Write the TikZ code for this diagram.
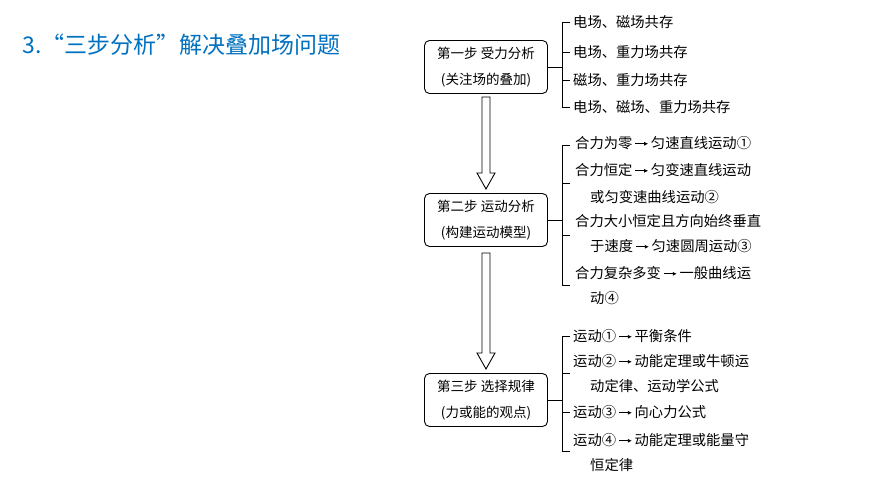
\documentclass[tikz,border=0pt]{standalone}
\usepackage{fontspec}
\setmainfont{Noto Sans CJK SC}
\usetikzlibrary{arrows.meta}
\newcommand{\rarr}{\,\tikz[baseline=-0.6ex]\draw[line width=0.8pt,-{Latex[length=4pt,width=4pt]}] (0,0)--(13pt,0);\,}
\begin{document}
\begin{tikzpicture}[x=1pt,y=-1pt,
  stepbox/.style={draw,line width=0.9pt,rounded corners=5pt,minimum width=123pt,minimum height=53pt,align=center,font=\fontsize{13.5}{26}\selectfont},
  item/.style={anchor=west,font=\fontsize{14.3}{16}\selectfont,inner sep=0pt},
  br/.style={line width=0.9pt},
  hollow/.style={draw,line width=0.9pt,fill=white}]
\useasboundingbox (0,0) rectangle (870,489);
\node[anchor=west,text={rgb,255:red,0;green,112;blue,192},font=\fontsize{23}{26}\selectfont] (title) at (19,45) {3.“三步分析”解决叠加场问题};
\node[stepbox] (s1) at (486,67) {第一步 受力分析\\(关注场的叠加)};
\node[stepbox] (s2) at (486,220) {第二步 运动分析\\(构建运动模型)};
\node[stepbox] (s3) at (486,400) {第三步 选择规律\\(力或能的观点)};
% hollow arrows
\foreach \a/\b in {97/189, 253/369}{
 \draw[hollow] (482,\a) -- (490,\a) -- (490,\b-16) -- (495,\b-16) -- (486,\b) -- (477,\b-16) -- (482,\b-16) -- cycle;}
% bracket 1
\draw[br] (s1.east) -- (562,67);
\draw[br] (570,22) -| (562,107) -- (570,107);
\draw[br] (562,52) -- (570,52) (562,80) -- (570,80);
\node[item] (a1) at (573,22) {电场、磁场共存};
\node[item] (a2) at (573,52) {电场、重力场共存};
\node[item] (a3) at (573,80) {磁场、重力场共存};
\node[item] (a4) at (573,107) {电场、磁场、重力场共存};
% bracket 2
\draw[br] (s2.east) -- (562,220);
\draw[br] (570,145) -| (562,285) -- (570,285);
\draw[br] (562,183) -- (570,183) (562,235) -- (570,235);
\node[item] (b1) at (575,143) {合力为零\rarr 匀速直线运动①};
\node[item] (b2) at (575,170) {合力恒定\rarr 匀变速直线运动};
\node[item] (b3) at (590,197) {或匀变速曲线运动②};
\node[item] (b4) at (575,221) {合力大小恒定且方向始终垂直};
\node[item] (b5) at (590,246) {于速度\rarr 匀速圆周运动③};
\node[item] (b6) at (575,273) {合力复杂多变\rarr 一般曲线运};
\node[item] (b7) at (590,298) {动④};
% bracket 3
\draw[br] (s3.east) -- (562,400);
\draw[br] (570,336) -| (562,451) -- (570,451);
\draw[br] (562,373) -- (570,373) (562,412) -- (570,412);
\node[item] (c1) at (573,336) {运动①\rarr 平衡条件};
\node[item] (c2) at (573,361) {运动②\rarr 动能定理或牛顿运};
\node[item] (c3) at (590,386) {动定律、运动学公式};
\node[item] (c4) at (573,412) {运动③\rarr 向心力公式};
\node[item] (c5) at (573,440) {运动④\rarr 动能定理或能量守};
\node[item] (c6) at (590,465) {恒定律};
\end{tikzpicture}
\end{document}
